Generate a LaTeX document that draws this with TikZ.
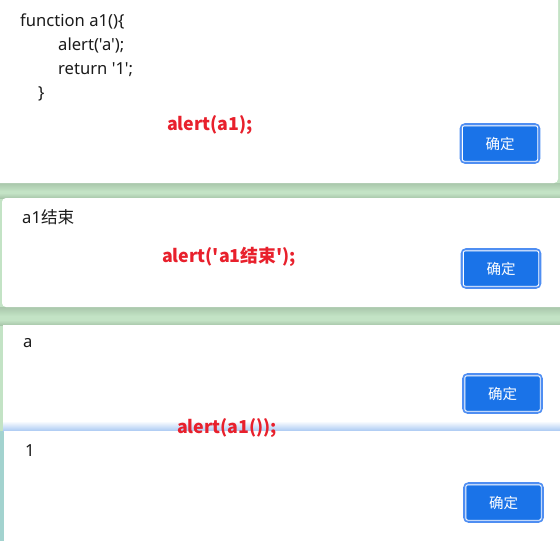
\documentclass[tikz,border=0pt]{standalone}
\usepackage{fontspec}
\setmainfont{Noto Sans CJK SC}[Ligatures=TeXOff]
\newfontfamily\latinfont{Noto Sans}[Ligatures=TeXOff]
\newfontfamily\cjk{Noto Sans CJK SC}[Ligatures=TeXOff]
\usetikzlibrary{shadings}
\definecolor{bggreen}{HTML}{C3E3C5}
\definecolor{shadowgreen}{HTML}{A9C7AB}
\definecolor{tealbg}{HTML}{A3D3CF}
\definecolor{btnblue}{HTML}{1A73E8}
\definecolor{btnedge}{HTML}{4F8EF2}
\definecolor{alertred}{HTML}{E8202C}
\definecolor{codeink}{HTML}{1A1A1A}
\definecolor{sepblue}{HTML}{A9C9F3}
\tikzset{
  panel/.style={fill=white, draw=none},
  codetext/.style={anchor=west, inner sep=0pt, text=codeink, font=\latinfont\fontsize{16.6}{19}\selectfont},
  redlabel/.style={anchor=center, inner sep=0pt, text=alertred, font=\cjk\fontsize{17.8}{21}\selectfont\bfseries},
  okbtn/.style={fill=btnblue, draw=btnedge, line width=2.6pt, rounded corners=4pt,
    minimum width=78pt, minimum height=38pt, inner sep=0pt, text=white,
    font=\cjk\fontsize{14.5}{17}\selectfont},
  btnline/.style={draw=white, line width=0.9pt, rounded corners=2pt}
}
\newcommand{\innerline}[1]{%
  \draw[btnline] ([shift={(2.6,2.6)}]#1.north west) rectangle ([shift={(-2.6,-2.6)}]#1.south east);}
\begin{document}
\begin{tikzpicture}[x=1pt,y=-1pt]
\useasboundingbox (0,0) rectangle (560,541);
% background
\fill[bggreen] (0,0) rectangle (560,541);
\fill[tealbg] (0,431) rectangle (5,541);
% shadows
\shade[top color=shadowgreen, bottom color=bggreen] (0,183) rectangle (560,191);
\shade[top color=shadowgreen, bottom color=bggreen] (0,307) rectangle (560,316);
\shade[top color=bggreen, bottom color=shadowgreen] (0,193) rectangle (560,198);
\shade[top color=bggreen, bottom color=shadowgreen] (0,320) rectangle (560,325);
% panels
\fill[panel, rounded corners=4pt] (-5,-5) rectangle (558,183);
\fill[panel, rounded corners=4pt] (2,198) rectangle (565,307);
\fill[panel] (3,325) rectangle (560,431);
\shade[top color=white, bottom color=sepblue] (3,421) rectangle (560,431);
\fill[panel] (4,431) rectangle (560,541);
% panel 1
\node[codetext] (l1) at (20,21.5) {function a1()\{};
\node[codetext] (l2) at (58,45.5) {alert('a');};
\node[codetext] (l3) at (58,69.5) {return '1';};
\node[codetext] (l4) at (38,93.5) {\}};
\node[redlabel] (r1) at (210,125.5) {alert(a1);};
\node[okbtn] (b1) at (500,143.5) {确定};
\innerline{b1}
% panel 2
\node[codetext] (t2) at (22,217.5) {a1{\cjk 结束}};
\node[redlabel] (r2) at (229,257) {alert('a1结束');};
\node[okbtn] (b2) at (501,268.5) {确定};
\innerline{b2}
% panel 3
\node[codetext] (t3) at (23,343) {a};
\node[okbtn] (b3) at (502.5,393.5) {确定};
\innerline{b3}
% panel 4
\node[codetext] (t4) at (25,451) {1};
\node[okbtn] (b4) at (503.5,502.5) {确定};
\innerline{b4}
\node[redlabel] (r3) at (227,428.5) {alert(a1());};
\end{tikzpicture}
\end{document}
